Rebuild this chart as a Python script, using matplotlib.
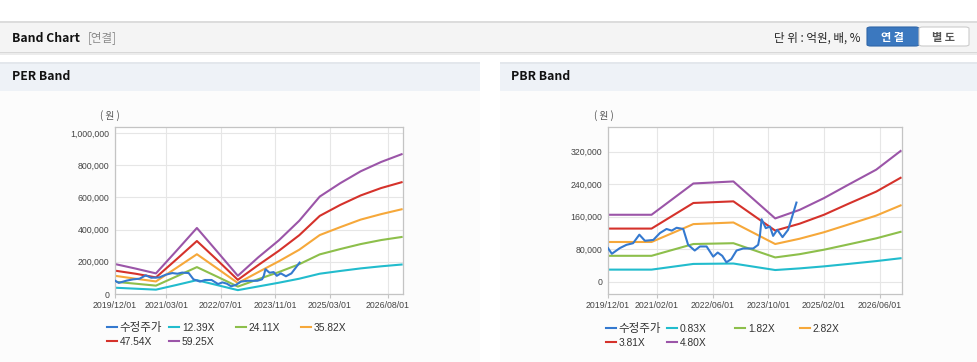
import matplotlib
matplotlib.use("Agg")
import matplotlib.pyplot as plt
from matplotlib.patches import Rectangle, FancyBboxPatch
from matplotlib.ticker import FuncFormatter

plt.rcParams['font.family'] = ['Liberation Sans', 'Noto Sans CJK KR', 'DejaVu Sans']

# ---------------- data ----------------
# x = months since 2019/12/01
per_months = [0, 6, 12, 18, 24, 30, 36, 42, 48, 54, 60, 66, 72, 78, 84]
per_12_39 = [39000, 33000, 27000, 56000, 86000, 55000, 24000, 47000, 70000, 95000, 126000, 143000, 159000, 172000, 183000]
per_24_11 = [76000, 64000, 52000, 109000, 167000, 107000, 46000, 92000, 136000, 185000, 246000, 279000, 310000, 335000, 354000]
per_35_82 = [113000, 95000, 78000, 162000, 247000, 158000, 68000, 136000, 203000, 275000, 366000, 415000, 462000, 496000, 526000]
per_47_54 = [145000, 126000, 103000, 215000, 329000, 210000, 88000, 180000, 268000, 365000, 485000, 553000, 612000, 658000, 694000]
per_59_25 = [186000, 158000, 128000, 268000, 410000, 262000, 113000, 228000, 333000, 455000, 605000, 688000, 762000, 820000, 868000]

pbr_months = [0, 12.5, 24.5, 36, 48, 55, 62, 69, 77, 84]
pbr_0_83 = [30000, 30000, 44000, 45000, 29000, 33000, 38000, 44000, 51000, 58000]
pbr_1_82 = [64000, 64000, 93000, 95000, 60000, 68000, 79000, 92000, 107000, 123000]
pbr_2_82 = [98000, 98000, 142000, 146000, 93000, 106000, 122000, 141000, 163000, 188000]
pbr_3_81 = [131000, 131000, 194000, 198000, 126000, 143000, 165000, 192000, 222000, 256000]
pbr_4_80 = [165000, 165000, 242000, 247000, 156000, 177000, 206000, 239000, 276000, 322000]

price_months = [0, 1.1, 3.4, 5.3, 7.2, 9.0, 10.6, 13.0, 14.9, 16.8, 18.3, 19.7, 21.6, 23.0, 24.9,
                26.4, 28.3, 30.2, 31.5, 32.8, 34.0, 35.4, 36.9, 38.8, 41.7, 43.1, 43.6, 44.1,
                45.3, 46.5, 47.4, 48.6, 50.1, 51.7, 54.1]
price = [83000, 69000, 83000, 91000, 95000, 116000, 101000, 103000, 120000, 130000, 126000, 133000,
         130000, 91000, 77000, 87000, 87000, 62000, 72000, 64000, 48000, 56000, 77000, 82000, 82000,
         91000, 113000, 154000, 132000, 136000, 113000, 128000, 110000, 128000, 195000]

per_ticks = [0, 15, 31, 47, 63, 80]
per_tick_labels = ['2019/12/01', '2021/03/01', '2022/07/01', '2023/11/01', '2025/03/01', '2026/08/01']
pbr_ticks = [0, 14, 30, 46, 62, 78]
pbr_tick_labels = ['2019/12/01', '2021/02/01', '2022/06/01', '2023/10/01', '2025/02/01', '2026/06/01']

per_yticks = [0, 200000, 400000, 600000, 800000, 1000000]
pbr_yticks = [0, 80000, 160000, 240000, 320000]

per_names = ['수정주가', '12.39X', '24.11X', '35.82X', '47.54X', '59.25X']
pbr_names = ['수정주가', '0.83X', '1.82X', '2.82X', '3.81X', '4.80X']

colors = ['#3479cf', '#22bccd', '#8dbf4b', '#f6a83a', '#d5322b', '#9b55a8']

# ---------------- figure ----------------
W, H = 978, 362
fig = plt.figure(figsize=(W / 100, H / 100), dpi=100)
fig.patch.set_facecolor('white')


def fx(px):
    return px / W


def fy(py):
    return 1 - py / H


def rect(x0, y0, x1, y1, fc, z=0):
    r = Rectangle((fx(x0), fy(y1)), fx(x1) - fx(x0), fy(y0) - fy(y1),
                  transform=fig.transFigure, facecolor=fc, edgecolor='none', linewidth=0, zorder=z)
    fig.add_artist(r)


# header bar
rect(0, 22, W, 52, '#f4f4f4')
rect(0, 21, W, 22.5, '#dcdcdc')
rect(0, 52, W, 53, '#d8d8d8')
rect(0, 53, W, 55, '#ececec')
# panel bodies
rect(0, 62, 480, H, '#fcfcfc')
rect(500, 62, W, H, '#fcfcfc')
# panel title bars
rect(0, 62, 480, 91, '#eef2f7')
rect(500, 62, W, 91, '#eef2f7')
rect(0, 62, 480, 64, '#e3e7ec')
rect(500, 62, W, 64, '#e3e7ec')

fig.text(fx(12), fy(38), 'Band Chart', fontsize=8.8, fontweight='bold', color='#111111',
         family=['Noto Sans CJK KR'], va='center', ha='left')
fig.text(fx(88), fy(38), '[연결]', fontsize=8.3, color='#8a8a8a',
         family=['Noto Sans CJK KR'], va='center', ha='left')
fig.text(fx(861), fy(38), '단 위 : 억원, 배, %', fontsize=8.3, color='#222222',
         family=['Noto Sans CJK KR'], va='center', ha='right')

b1 = FancyBboxPatch((fx(867), fy(46)), fx(919) - fx(867), fy(27) - fy(46),
                    boxstyle='round,pad=0,rounding_size=0.004', transform=fig.transFigure,
                    facecolor='#3b78bf', edgecolor='#2f66a8', linewidth=0.8)
fig.add_artist(b1)
b2 = FancyBboxPatch((fx(919), fy(46)), fx(969) - fx(919), fy(27) - fy(46),
                    boxstyle='round,pad=0,rounding_size=0.004', transform=fig.transFigure,
                    facecolor='#ffffff', edgecolor='#cccccc', linewidth=0.8)
fig.add_artist(b2)
fig.text(fx(893), fy(37), '연 결', fontsize=8, fontweight='bold', color='white',
         family=['Noto Sans CJK KR'], va='center', ha='center')
fig.text(fx(944), fy(37), '별 도', fontsize=8, fontweight='bold', color='#555555',
         family=['Noto Sans CJK KR'], va='center', ha='center')

fig.text(fx(12), fy(77), 'PER Band', fontsize=8.8, fontweight='bold', color='#111111',
         family=['Noto Sans CJK KR'], va='center', ha='left')
fig.text(fx(511), fy(77), 'PBR Band', fontsize=8.8, fontweight='bold', color='#111111',
         family=['Noto Sans CJK KR'], va='center', ha='left')


def style_axes(ax, xticks, xlabels, yticks, ylim):
    ax.set_facecolor('white')
    ax.set_xlim(0, 84.4)
    ax.set_ylim(*ylim)
    ax.set_xticks(xticks)
    ax.set_xticklabels(xlabels)
    ax.set_yticks(yticks)
    ax.yaxis.set_major_formatter(FuncFormatter(lambda v, p: f'{v:,.0f}'))
    ax.grid(True, color='#e6e6e6', linewidth=0.8)
    ax.set_axisbelow(True)
    for s in ax.spines.values():
        s.set_color('#c4c4c4')
        s.set_linewidth(0.9)
    ax.tick_params(axis='x', length=3, color='#c4c4c4', labelsize=6.3, labelcolor='#444444', pad=2)
    ax.tick_params(axis='y', length=0, labelsize=6.3, labelcolor='#444444', pad=4)


# PER axes
ax1 = fig.add_axes([fx(115), fy(294), fx(403) - fx(115), fy(127) - fy(294)])
style_axes(ax1, per_ticks, per_tick_labels, per_yticks, (0, 1037000))
per_series = [per_12_39, per_24_11, per_35_82, per_47_54, per_59_25]
h1 = [ax1.plot(price_months, price, color=colors[0], lw=1.5, zorder=3)[0]]
for i, s in enumerate(per_series):
    h1.append(ax1.plot(per_months, s, color=colors[i + 1], lw=1.5, zorder=2)[0])
fig.text(fx(110), fy(116), '( 원 )', fontsize=7, color='#555555', va='center', ha='center',
         family=['Noto Sans CJK KR'])

# PBR axes
ax2 = fig.add_axes([fx(608), fy(294), fx(902) - fx(608), fy(127) - fy(294)])
style_axes(ax2, pbr_ticks, pbr_tick_labels, pbr_yticks, (-30000, 381000))
pbr_series = [pbr_0_83, pbr_1_82, pbr_2_82, pbr_3_81, pbr_4_80]
h2 = [ax2.plot(price_months, price, color=colors[0], lw=1.5, zorder=3)[0]]
for i, s in enumerate(pbr_series):
    h2.append(ax2.plot(pbr_months, s, color=colors[i + 1], lw=1.5, zorder=2)[0])
fig.text(fx(604), fy(116), '( 원 )', fontsize=7, color='#555555', va='center', ha='center',
         family=['Noto Sans CJK KR'])


def add_legend(handles, names, xs, rows):
    # entry i -> (column x, row y)
    slots = [(xs[0], rows[0]), (xs[1], rows[0]), (xs[2], rows[0]), (xs[3], rows[0]),
             (xs[0], rows[1]), (xs[1], rows[1])]
    for i, (x, y) in enumerate(slots):
        fs = 8.3 if names[i] == '수정주가' else 7.4
        fig.legend([handles[i]], [names[i]], loc='center left',
                   bbox_to_anchor=(fx(x), fy(y)), frameon=False,
                   fontsize=fs, handlelength=0.95 * 7.4 / fs, handletextpad=0.3 * 7.4 / fs,
                   borderaxespad=0, borderpad=0, labelcolor='#333333')


add_legend(h1, per_names, [107, 169, 236, 301], [328, 342])
add_legend(h2, pbr_names, [606, 667, 735, 800], [329, 343])

fig.savefig('out.png', dpi=100)
